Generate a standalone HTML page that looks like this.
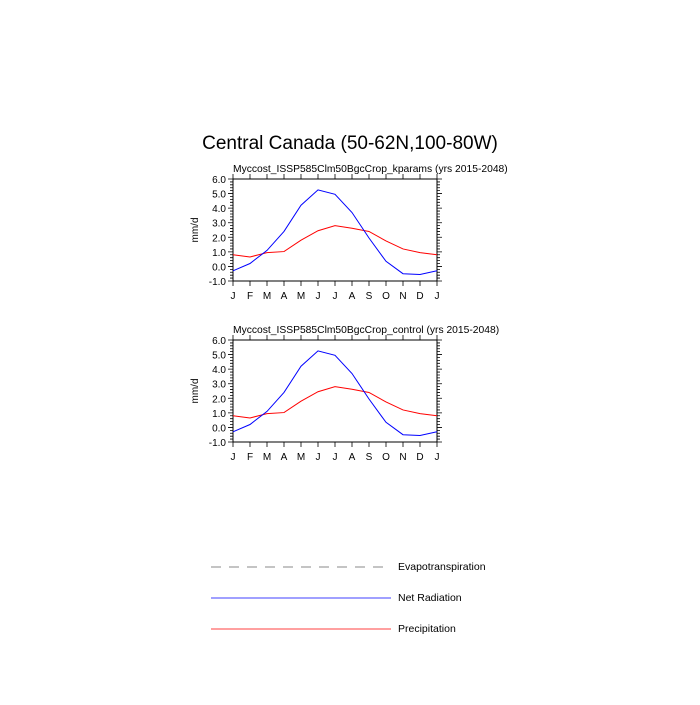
<!DOCTYPE html>
<html><head><meta charset="utf-8"><style>
body{margin:0;background:#fff;}
svg text{font-family:"Liberation Sans",sans-serif;fill:#000;}
</style></head><body>
<svg id="chart" width="700" height="700" viewBox="0 0 700 700">
<text x="350" y="149" font-size="19" text-anchor="middle">Central Canada (50-62N,100-80W)</text>
<g id="plots"></g>
<g>
<line x1="211" y1="567" x2="391" y2="567" stroke="#888" stroke-dasharray="10,8"/>
<text x="398" y="570" font-size="10.5">Evapotranspiration</text>
<line x1="211" y1="598" x2="391" y2="598" stroke="#00f" stroke-width="0.8"/>
<text x="398" y="601" font-size="10.5">Net Radiation</text>
<line x1="211" y1="629" x2="391" y2="629" stroke="#f00" stroke-width="0.8"/>
<text x="398" y="632" font-size="10.5">Precipitation</text>
</g>
</svg>
<script>
const months = ["J","F","M","A","M","J","J","A","S","O","N","D","J"];
const yTicks = [-1,0,1,2,3,4,5,6];
const panelTitles = ["Myccost_ISSP585Clm50BgcCrop_kparams (yrs 2015-2048)","Myccost_ISSP585Clm50BgcCrop_control (yrs 2015-2048)"];
const netRad1 = [-0.3,0.2,1.1,2.4,4.2,5.25,4.95,3.7,1.95,0.35,-0.5,-0.55,-0.3];
const precip1 = [0.8,0.65,0.95,1.02,1.8,2.45,2.8,2.62,2.4,1.75,1.2,0.95,0.8];
const netRad2 = [-0.3,0.2,1.1,2.4,4.2,5.25,4.95,3.7,1.95,0.35,-0.5,-0.55,-0.3];
const precip2 = [0.8,0.65,0.95,1.02,1.8,2.45,2.8,2.62,2.4,1.75,1.2,0.95,0.8];
const NS="http://www.w3.org/2000/svg";
const root=document.getElementById('plots');
function mk(tag,attrs,parent){const e=document.createElementNS(NS,tag);for(const k in attrs)e.setAttribute(k,attrs[k]);parent.appendChild(e);return e;}
function panel(top,title,nr,pr,idx){
  const L=233,R=437,T=top,B=top+102;
  const g=mk('g',{},root);
  
  
  const x=i=>L+(R-L)*i/(months.length-1);
  const y=v=>B-(v+1)*(B-T)/7;
  const t=mk('text',{x:L,y:T-7,'font-size':10.3},g);t.textContent=title;
  
  
  const fr=mk('rect',{x:L,y:T,width:R-L,height:B-T,fill:'none',stroke:'#000','stroke-width':1},g);
  
  
  let d='';
  months.forEach((m,i)=>{const xx=x(i);d+=`M${xx},${B}v5M${xx},${T}v-5`;
    const tx=mk('text',{x:xx,y:B+18,'font-size':10,'text-anchor':'middle'},g);tx.textContent=m;
    
    });
  for(let v=-1;v<=6.001;v+=0.2){const yy=y(v);const maj=Math.abs(v-Math.round(v))<0.01;const l=maj?5:3;d+=`M${L},${yy}h-${l}M${R},${yy}h${l}`;}
  yTicks.forEach(v=>{const ty=mk('text',{x:L-7,y:y(v)+4,'font-size':10,'text-anchor':'end'},g);ty.textContent=v.toFixed(1);
    
    });
  const tk=mk('path',{d:d,stroke:'#000','stroke-width':0.8,fill:'none'},g);
  
  
  const yl=mk('text',{x:0,y:0,'font-size':10,'text-anchor':'middle',transform:`translate(198,${(T+B)/2}) rotate(-90)`},g);yl.textContent='mm/d';
  
  
  const p1=mk('polyline',{points:pr.map((v,i)=>x(i)+','+y(v)).join(' '),fill:'none',stroke:'#f00','stroke-width':1},g);
  
  
  const p2=mk('polyline',{points:nr.map((v,i)=>x(i)+','+y(v)).join(' '),fill:'none',stroke:'#00f','stroke-width':1},g);
  
  
}
panel(179,panelTitles[0],netRad1,precip1,1);
panel(340,panelTitles[1],netRad2,precip2,2);
</script>
</body></html>
